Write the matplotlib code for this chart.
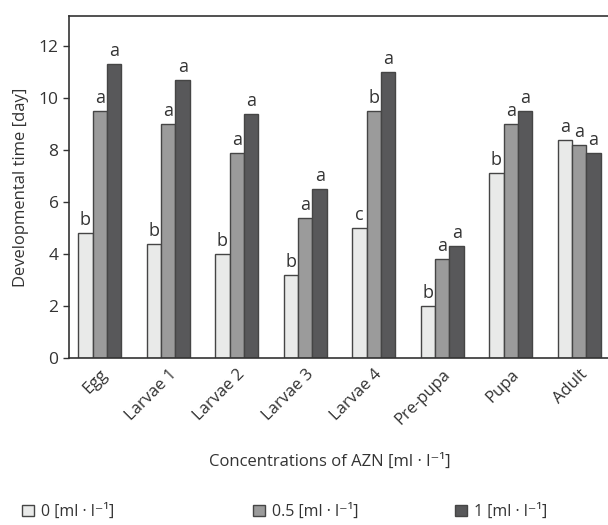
import matplotlib
matplotlib.use("Agg")
import matplotlib.pyplot as plt
import numpy as np
from matplotlib.patches import Patch

plt.rcParams['font.family'] = ['Open Sans', 'DejaVu Sans']

stages = ["Egg", "Larvae 1", "Larvae 2", "Larvae 3", "Larvae 4", "Pre-pupa", "Pupa", "Adult"]
conc_0 = [4.8, 4.4, 4.0, 3.2, 5.0, 2.0, 7.1, 8.4]
conc_05 = [9.5, 9.0, 7.9, 5.4, 9.5, 3.8, 9.0, 8.2]
conc_1 = [11.3, 10.7, 9.4, 6.5, 11.0, 4.3, 9.5, 7.9]
letters_0 = ["b", "b", "b", "b", "c", "b", "b", "a"]
letters_05 = ["a", "a", "a", "a", "b", "a", "a", "a"]
letters_1 = ["a", "a", "a", "a", "a", "a", "a", "a"]
series_labels = ["0 [ml · l⁻¹]", "0.5 [ml · l⁻¹]", "1 [ml · l⁻¹]"]
yticks = [0, 2, 4, 6, 8, 10, 12]

colors = ["#e9eae9", "#9b9b9b", "#58585a"]
edge = "#454545"
txt = "#333333"

fig = plt.figure(figsize=(6.08, 5.25), dpi=100)
ax = fig.add_axes([69/608, 1-358/525, 1-69/608, (358-16)/525])

x = np.arange(len(stages))
w = 0.21
series = [conc_0, conc_05, conc_1]
letters = [letters_0, letters_05, letters_1]
for i, (vals, lets) in enumerate(zip(series, letters)):
    pos = x + (i-1)*w
    ax.bar(pos, vals, width=w, color=colors[i], edgecolor=edge, linewidth=1.0, label=series_labels[i])
    for p, v, l in zip(pos, vals, lets):
        ax.text(p, v + 0.15, l, ha='center', va='bottom', fontsize=13, color=txt)

ax.set_xlim(-0.45, 7.42)
ax.set_ylim(0, 13.15)
ax.set_yticks(yticks)
ax.set_xticks(x)
ax.set_xticklabels(stages, rotation=45, ha='right', rotation_mode='anchor', fontsize=12, color=txt)
ax.tick_params(axis='x', length=0, pad=6)
ax.tick_params(axis='y', length=4, width=1, colors=txt, labelsize=12.5, direction='out')
for s in ['top', 'left', 'bottom']:
    ax.spines[s].set_color('#333333')
    ax.spines[s].set_linewidth(1.2)
ax.spines['right'].set_visible(False)
ax.set_ylabel("Developmental time [day]", fontsize=12, color=txt, labelpad=7)

fig.text(330/608, 1-462/525, "Concentrations of AZN [ml · l⁻¹]", ha='center', va='center', fontsize=12, color=txt)

leg_x = [8, 239, 441]
for i in range(3):
    h = Patch(facecolor=colors[i], edgecolor=edge, linewidth=1.0)
    leg = fig.legend([h], [series_labels[i]], loc='center left', bbox_to_anchor=(leg_x[i]/608, 1-512/525),
                     frameon=False, fontsize=11.5, handlelength=0.75, handleheight=0.75,
                     handletextpad=0.4)
    for t in leg.get_texts():
        t.set_color(txt)

fig.savefig("out.png", dpi=100)
